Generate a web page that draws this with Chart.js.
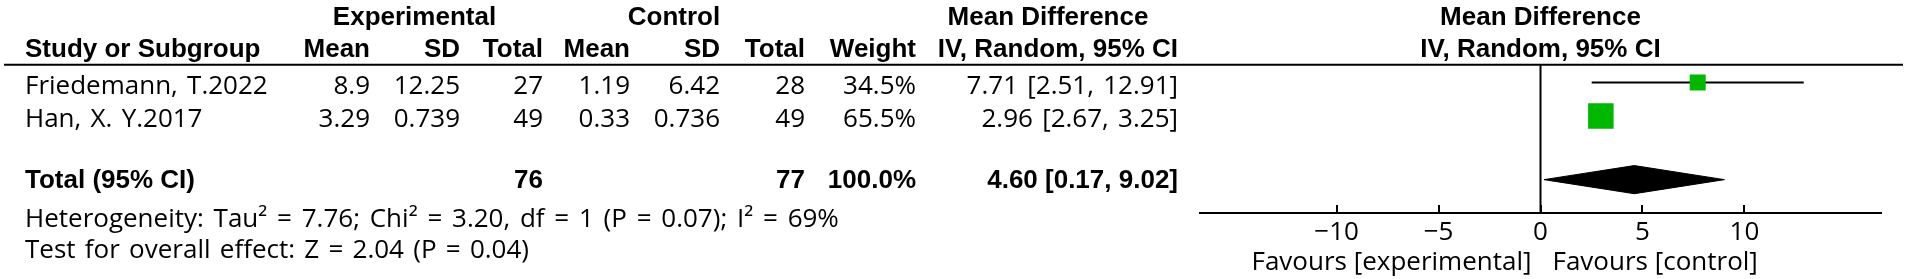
<!DOCTYPE html>
<html>
<head>
<meta charset="utf-8">
<script src="https://cdn.jsdelivr.net/npm/chart.js@4/dist/chart.umd.min.js"></script>
<style>
html,body{margin:0;padding:0;background:#fff;}
#wrap{width:1906px;height:279px;position:relative;}
</style>
</head>
<body>
<div id="wrap"><canvas id="c"></canvas></div>
<script>
// ---- data ----
const studies   = ["Friedemann, T.2022", "Han, X. Y.2017"];
const expMean   = [8.9, 3.29];
const expSD     = [12.25, 0.739];
const expTotal  = [27, 49];
const ctlMean   = [1.19, 0.33];
const ctlSD     = [6.42, 0.736];
const ctlTotal  = [28, 49];
const weights   = [34.5, 65.5];
const meanDiff  = [7.71, 2.96];
const ciLow     = [2.51, 2.67];
const ciHigh    = [12.91, 3.25];
const totalLabel = "Total (95% CI)";
const totalExp = [76];
const totalCtl = [77];
const totalWeight = [100.0];
const pooledMD  = [4.60];
const pooledLow = [0.17];
const pooledHigh = [9.02];
const heterogeneityText = "Heterogeneity: Tau\u00B2 = 7.76; Chi\u00B2 = 3.20, df = 1 (P = 0.07); I\u00B2 = 69%";
const overallText = "Test for overall effect: Z = 2.04 (P = 0.04)";
const tickValues = [-10, -5, 0, 5, 10];
const favoursLabels = ["Favours [experimental]", "Favours [control]"];
const groupHeaders = ["Experimental", "Control", "Mean Difference", "Mean Difference"];
const columnHeaders = ["Study or Subgroup", "Mean", "SD", "Total", "Mean", "SD", "Total", "Weight", "IV, Random, 95% CI", "IV, Random, 95% CI"];

// ---- style / layout ----
const FONT = "'Open Sans', 'Liberation Sans', sans-serif";
const BOLD_FONT = "'Liberation Sans', Arial, sans-serif";
const FS = 26;
const GREEN = '#00b800';
const TOTAL_ROW = 2.9;
const DIAMOND_HALF = 0.42;

const fmtMinus = v => (v < 0 ? '\u2212' + Math.abs(v) : String(v));

const datasets = [];
studies.forEach((s, i) => {
  datasets.push({
    type: 'line',
    data: [{x: ciLow[i], y: i}, {x: ciHigh[i], y: i}],
    borderColor: '#000', borderWidth: 2, pointRadius: 0, showLine: true, fill: false,
    order: 2
  });
});
const sq = ctx => {
  const w = ctx.raw ? ctx.raw.w : 0;
  return (5.4 + 0.307 * w) / Math.SQRT2;
};
datasets.push({
  type: 'scatter',
  data: studies.map((s, i) => ({x: meanDiff[i], y: i, w: weights[i]})),
  pointStyle: 'rect',
  backgroundColor: GREEN,
  borderWidth: 0,
  pointRadius: sq,
  pointHoverRadius: sq,
  order: 0
});
datasets.push({
  type: 'line',
  data: [
    {x: pooledLow[0], y: TOTAL_ROW},
    {x: pooledMD[0], y: TOTAL_ROW - DIAMOND_HALF},
    {x: pooledHigh[0], y: TOTAL_ROW},
    {x: pooledMD[0], y: TOTAL_ROW + DIAMOND_HALF},
    {x: pooledLow[0], y: TOTAL_ROW}
  ],
  borderColor: '#000', backgroundColor: '#000', borderWidth: 1,
  pointRadius: 0, showLine: true, fill: 'shape', tension: 0,
  order: 1
});

const tablePlugin = {
  id: 'table',
  afterDraw(chart) {
    const ctx = chart.ctx;
    const xs = chart.scales.x;
    const area = chart.chartArea;
    const x0 = xs.getPixelForValue(0);
    ctx.save();
    ctx.fillStyle = '#000';
    ctx.strokeStyle = '#000';
    ctx.textBaseline = 'alphabetic';
    const t = (s, x, y, align, bold, ws) => {
      if (bold) {
        ctx.font = 'bold ' + FS + 'px ' + BOLD_FONT;
        if ('wordSpacing' in ctx) ctx.wordSpacing = '0px';
      } else {
        ctx.font = FS + 'px ' + FONT;
        if ('wordSpacing' in ctx) ctx.wordSpacing = (ws === undefined ? 2.5 : ws) + 'px';
      }
      ctx.textAlign = align;
      ctx.fillText(s, x, y);
    };
    // header line
    ctx.lineWidth = 2;
    ctx.beginPath(); ctx.moveTo(4, 64.7); ctx.lineTo(1903, 64.7); ctx.stroke();
    // zero line
    ctx.beginPath(); ctx.moveTo(x0, area.top); ctx.lineTo(x0, area.bottom); ctx.stroke();

    const plotCenter = (area.left + area.right) / 2;
    const hy1 = 24.5, hy2 = 57.3;
    t(groupHeaders[0], 414.5, hy1, 'center', true);
    t(groupHeaders[1], 674, hy1, 'center', true);
    t(groupHeaders[2], 1048, hy1, 'center', true);
    t(groupHeaders[3], plotCenter, hy1, 'center', true);
    const colX = [25, 370, 460, 543, 630, 720, 805, 916, 1178];
    t(columnHeaders[0], colX[0], hy2, 'left', true);
    for (let k = 1; k <= 8; k++) t(columnHeaders[k], colX[k], hy2, 'right', true);
    t(columnHeaders[9], plotCenter, hy2, 'center', true);

    const rowBase = [94.3, 127.3];
    studies.forEach((s, i) => {
      const y = rowBase[i];
      t(s, colX[0], y, 'left', false);
      t(String(expMean[i]), colX[1], y, 'right', false);
      t(String(expSD[i]), colX[2], y, 'right', false);
      t(String(expTotal[i]), colX[3], y, 'right', false);
      t(String(ctlMean[i]), colX[4], y, 'right', false);
      t(String(ctlSD[i]), colX[5], y, 'right', false);
      t(String(ctlTotal[i]), colX[6], y, 'right', false);
      t(weights[i].toFixed(1) + '%', colX[7], y, 'right', false);
      t(meanDiff[i].toFixed(2) + ' [' + ciLow[i].toFixed(2) + ', ' + ciHigh[i].toFixed(2) + ']', colX[8], y, 'right', false);
    });
    const ty = 188.3;
    t(totalLabel, colX[0], ty, 'left', true);
    t(String(totalExp[0]), colX[3], ty, 'right', true);
    t(String(totalCtl[0]), colX[6], ty, 'right', true);
    t(totalWeight[0].toFixed(1) + '%', colX[7], ty, 'right', true);
    t(pooledMD[0].toFixed(2) + ' [' + pooledLow[0].toFixed(2) + ', ' + pooledHigh[0].toFixed(2) + ']', colX[8], ty, 'right', true);
    t(heterogeneityText, colX[0], 226.7, 'left', false, 3);
    t(overallText, colX[0], 258.3, 'left', false, 2.5);
    t(favoursLabels[0], x0 - 9, 270, 'right', false, 0);
    t(favoursLabels[1], x0 + 12, 270, 'left', false, 0);
    ctx.restore();
  }
};

new Chart(document.getElementById('c'), {
  type: 'scatter',
  data: { datasets },
  options: {
    responsive: true,
    maintainAspectRatio: false,
    animation: false,
    events: [],
    layout: { padding: { left: 1200, right: 25, top: 64.7, bottom: 0 } },
    plugins: { legend: { display: false }, tooltip: { enabled: false } },
    scales: {
      x: {
        type: 'linear',
        position: 'bottom',
        min: -16.7, max: 16.7,
        afterBuildTicks: s => { s.ticks = tickValues.map(v => ({ value: v })); },
        afterFit: s => { s.height = 66; },
        ticks: {
          callback: v => fmtMinus(v),
          font: { family: FONT, size: FS },
          color: '#000',
          padding: 12,
          maxRotation: 0,
          autoSkip: false
        },
        grid: { drawOnChartArea: false, drawTicks: true, tickLength: -8, color: '#000', lineWidth: 2 },
        border: { display: true, color: '#000', width: 2 }
      },
      y: {
        type: 'linear',
        reverse: true,
        min: -0.531, max: 3.896,
        display: false
      }
    }
  },
  plugins: [tablePlugin]
});
</script>
</body>
</html>
